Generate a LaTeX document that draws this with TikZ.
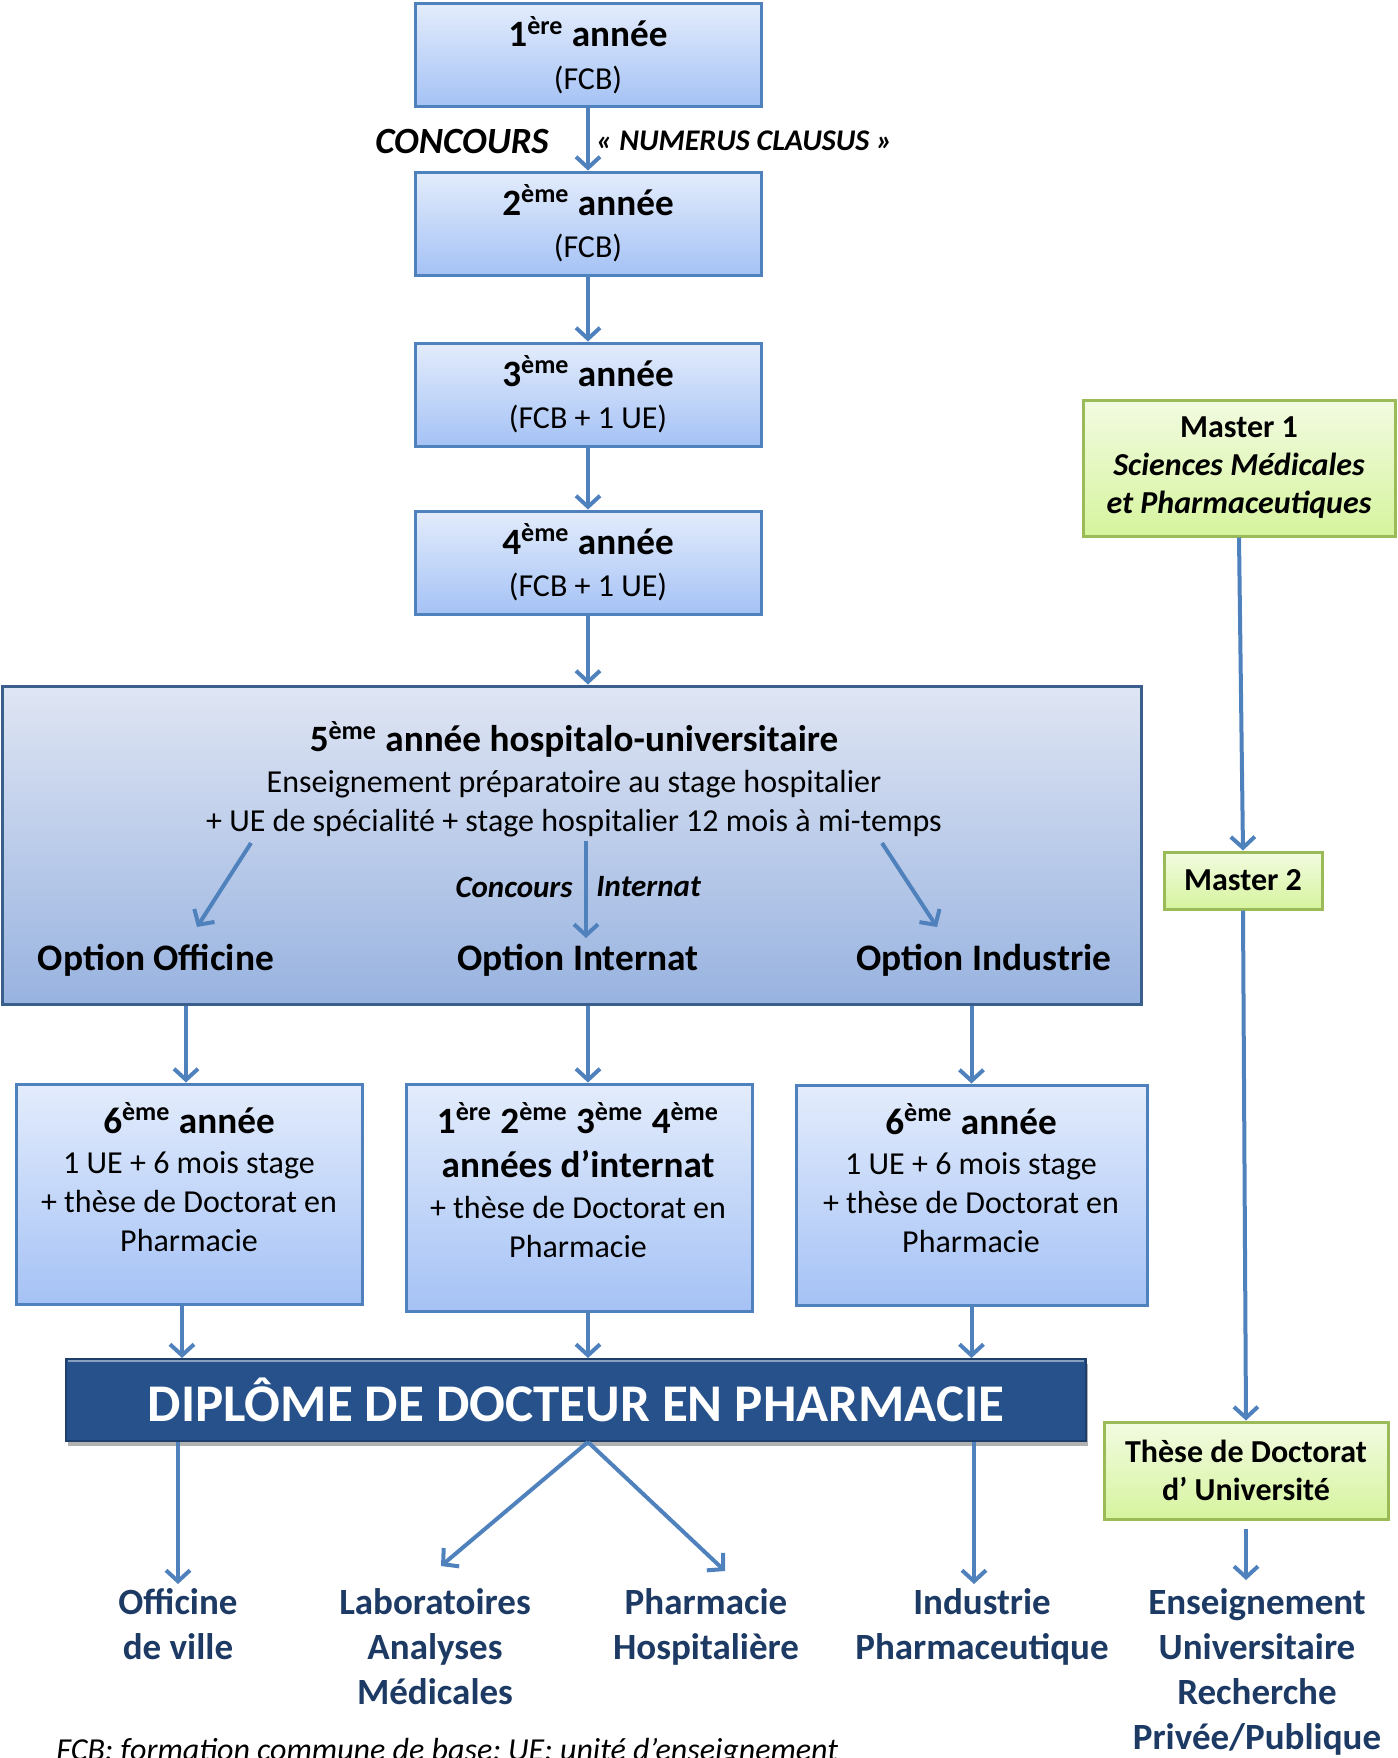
\documentclass[tikz,border=0pt]{standalone}
\usepackage{fontspec}
\setmainfont{Carlito}
\usetikzlibrary{arrows.meta,shadows}
\definecolor{bx}{HTML}{4F81BD}
\definecolor{bxtop}{HTML}{E3ECFC}
\definecolor{bxbot}{HTML}{A5C2F5}
\definecolor{bigtop}{HTML}{DFE5F3}
\definecolor{bigbot}{HTML}{98B3E0}
\definecolor{bigline}{HTML}{3A5F8D}
\definecolor{grtop}{HTML}{F2FBE1}
\definecolor{grbot}{HTML}{D6F49E}
\definecolor{grline}{HTML}{9BBB59}
\definecolor{dip}{HTML}{27518A}
\definecolor{dipline}{HTML}{1E3F6C}
\definecolor{lab}{HTML}{1C3A64}
\begin{document}
\begin{tikzpicture}[x=0.5pt,y=-0.5pt,
  arr/.style={draw=bx,line width=2pt,-{Straight Barb[length=5.5pt,width=12pt]}},
  bluebox/.style={draw=bx,line width=1.5pt,top color=bxtop,bottom color=bxbot,inner sep=0pt,align=center,font=\fontsize{16}{21.3}\selectfont},
  greenbox/.style={draw=grline,line width=1.5pt,top color=grtop,bottom color=grbot,inner sep=0pt,align=center,font=\fontsize{16}{19}\selectfont\bfseries},
  txt/.style={inner sep=0pt,align=center,font=\fontsize{16}{19.3}\selectfont},
  opt/.style={inner sep=0pt,font=\bfseries\fontsize{18.7}{22}\selectfont},
  outl/.style={inner sep=0pt,align=center,text=lab,font=\fontsize{18.5}{22.5}\selectfont\bfseries},
]
\useasboundingbox (0,0) rectangle (1398,1758);
\clip (0,0) rectangle (1398,1758);

% year boxes
\node[bluebox,minimum width=173pt,minimum height=51.5pt] (b1) at (588,55)
  {{\bfseries\fontsize{18.6}{21.3}\selectfont 1\textsuperscript{ère} année}\\(FCB)};
\node[bluebox,minimum width=173pt,minimum height=51.5pt] (b2) at (588,223.5)
  {{\bfseries\fontsize{18.6}{21.3}\selectfont 2\textsuperscript{ème} année}\\(FCB)};
\node[bluebox,minimum width=173pt,minimum height=51.5pt] (b3) at (588,394.5)
  {{\bfseries\fontsize{18.6}{21.3}\selectfont 3\textsuperscript{ème} année}\\(FCB + 1 UE)};
\node[bluebox,minimum width=173pt,minimum height=51.5pt] (b4) at (588,562.5)
  {{\bfseries\fontsize{18.6}{21.3}\selectfont 4\textsuperscript{ème} année}\\(FCB + 1 UE)};

\node[anchor=east,inner sep=0pt,font=\bfseries\itshape\fontsize{18.5}{22}\selectfont] (concours) at (549,141) {CONCOURS};
\node[anchor=west,inner sep=0pt,font=\bfseries\itshape\fontsize{15}{18}\selectfont] (numerus) at (596,141) {« NUMERUS CLAUSUS »};

% 5th year box
\node[draw=bigline,line width=1.5pt,top color=bigtop,bottom color=bigbot,minimum width=569.5pt,minimum height=159pt,inner sep=0pt] (bigbox) at (571.5,845) {};
\node[txt] (t5) at (574,779)
  {{\bfseries\fontsize{18.6}{21}\selectfont 5\textsuperscript{ème} année hospitalo-universitaire}\\[1pt]Enseignement préparatoire au stage hospitalier\\+ UE de spécialité + stage hospitalier 12 mois à mi-temps};
\node[anchor=east,inner sep=0pt,font=\bfseries\itshape\fontsize{15.5}{19}\selectfont] (conc) at (573,887) {Concours};
\node[anchor=west,inner sep=0pt,font=\bfseries\itshape\fontsize{15.5}{19}\selectfont] (intn) at (596,887) {Internat};
\node[opt] (optoff) at (156,960) {Option Officine};
\node[opt] (optint) at (578,960) {Option Internat};
\node[opt] (optind) at (984,960) {Option Industrie};
\coordinate (aoffs) at (251,843);
\coordinate (aoffe) at (197,927);
\coordinate (aints) at (586,841);
\coordinate (ainte) at (586,938);
\coordinate (ainds) at (882,843);
\coordinate (ainde) at (937,927);
\draw[arr] (aoffs) -- (aoffe);
\draw[arr] (aints) -- (ainte);
\draw[arr] (ainds) -- (ainde);

% 6th year boxes
\node[bluebox,minimum width=173pt,minimum height=110pt] (s6l) at (189,1194) {};
\node[bluebox,minimum width=173pt,minimum height=113.5pt] (s6m) at (579,1197.5) {};
\node[bluebox,minimum width=175.5pt,minimum height=110pt] (s6r) at (971.5,1195) {};
\node[txt] (t6l) at (189,1177)
  {{\bfseries\fontsize{18.6}{21}\selectfont 6\textsuperscript{ème} année}\\[1pt]1 UE + 6 mois stage\\+ thèse de Doctorat en\\Pharmacie};
\node[txt] (t6m) at (578,1180)
  {{\bfseries\fontsize{18.6}{21}\selectfont 1\textsuperscript{ère} 2\textsuperscript{ème} 3\textsuperscript{ème} 4\textsuperscript{ème}}\\[3pt]{\bfseries\fontsize{18.6}{21}\selectfont années d’internat}\\[1pt]+ thèse de Doctorat en\\Pharmacie};
\node[txt] (t6r) at (971,1178)
  {{\bfseries\fontsize{18.6}{21}\selectfont 6\textsuperscript{ème} année}\\[1pt]1 UE + 6 mois stage\\+ thèse de Doctorat en\\Pharmacie};

% diploma banner
\node[fill=dip,draw=dipline,line width=1pt,drop shadow={shadow xshift=1pt,shadow yshift=-2.5pt,fill=black,opacity=0.3},
  minimum width=510pt,minimum height=41pt,inner sep=0pt,text=white,font=\bfseries\fontsize{26.5}{30}\selectfont] (dip) at (576,1400) {DIPLÔME DE DOCTEUR EN PHARMACIE};
\draw[line width=1.2pt,dip!55!white] ([xshift=1.5pt,yshift=-1.5pt]dip.north west) -- ([xshift=-1.5pt,yshift=-1.5pt]dip.north east);

% master column
\node[greenbox,minimum width=156pt,minimum height=68pt] (m1) at (1239,468)
  {Master 1\\\itshape Sciences Médicales\\\itshape et Pharmaceutiques};
\node[greenbox,minimum width=79pt,minimum height=28.5pt] (m2) at (1243,880.5) {Master 2};
\node[greenbox,minimum width=142pt,minimum height=48.5pt] (th) at (1246,1470.5) {Thèse de Doctorat\\d’ Université};

% outcomes
\node[outl,anchor=north] (offi) at (178,1588) {Officine\\de ville};
\node[outl,anchor=north] (labo) at (435,1588) {Laboratoires\\Analyses\\Médicales};
\node[outl,anchor=north] (phar) at (706,1588) {Pharmacie\\Hospitalière};
\node[outl,anchor=north] (indu) at (982,1588) {Industrie\\Pharmaceutique};
\node[outl,anchor=north] (ens) at (1257,1588) {Enseignement\\Universitaire\\Recherche\\Privée/Publique};
\coordinate (labtip) at (441,1566);
\coordinate (phatip) at (725,1571);

\node[anchor=base west,inner sep=0pt,font=\itshape\fontsize{16}{19}\selectfont] (foot) at (56,1760) {FCB: formation commune de base; UE: unité d’enseignement};

% connectors
\draw[arr] (b1.south) -- (b2.north);
\draw[arr] (b2.south) -- (b3.north);
\draw[arr] (b3.south) -- (b4.north);
\draw[arr] (b4.south) -- (b4.south |- bigbox.north);
\draw[arr] ([xshift=-1.5pt]s6l.north |- bigbox.south) -- ([xshift=-1.5pt]s6l.north);
\draw[arr] (b4.south |- bigbox.south) -- (b4.south |- s6m.north);
\draw[arr] (s6r.north |- bigbox.south) -- (s6r.north);
\draw[arr] ([xshift=-3.5pt]s6l.south) -- ([xshift=-3.5pt]s6l.south |- dip.north);
\draw[arr] (b4.south |- s6m.south) -- (b4.south |- dip.north);
\draw[arr] (s6r.south) -- (s6r.south |- dip.north);
\draw[arr,shorten >=2pt] (offi.north |- dip.south) -- (offi.north);
\draw[arr] (b4.south |- dip.south) -- (labtip);
\draw[arr] (b4.south |- dip.south) -- (phatip);
\draw[arr,shorten >=2pt] ([xshift=-4pt]indu.north |- dip.south) -- ([xshift=-4pt]indu.north);
\draw[arr] (m1.south) -- (m2.north);
\draw[arr] (m2.south) -- (th.north);
\draw[arr,shorten <=4pt,shorten >=4pt] (th.south) -- (th.south |- ens.north);
\end{tikzpicture}
\end{document}
